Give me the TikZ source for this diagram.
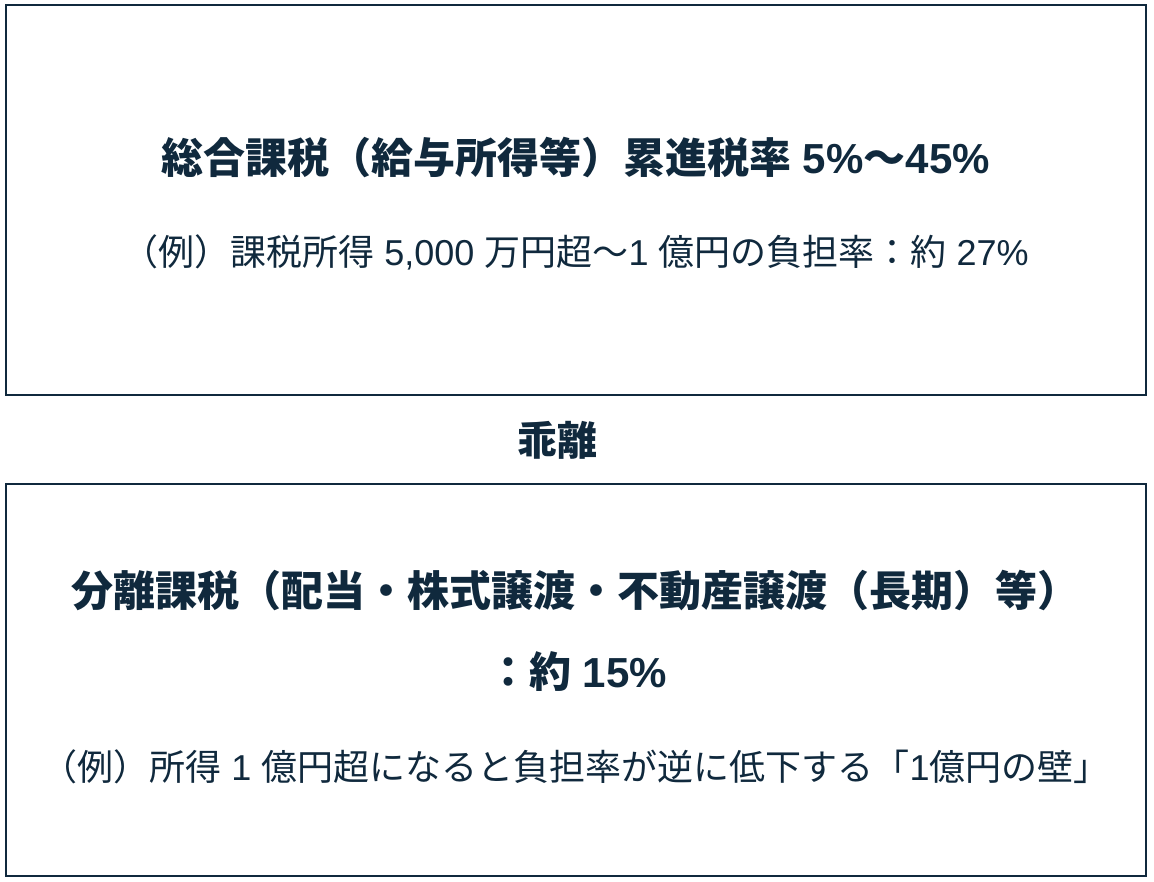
\documentclass[tikz,border=0pt]{standalone}
\usepackage{fontspec}
\newfontfamily\jp{Noto Sans CJK JP}
\newfontfamily\lt{Liberation Sans}
\definecolor{navy}{HTML}{10293D}
\begin{document}
\begin{tikzpicture}[x=1pt,y=-1pt,
  frame/.style={draw=navy,line width=2pt},
  title/.style={text=navy,font=\jp\bfseries\fontsize{42}{50}\selectfont,inner sep=0pt},
  gaplabel/.style={text=navy,font=\jp\bfseries\fontsize{40}{48}\selectfont,inner sep=0pt},
  sub/.style={text=navy,font=\jp\fontsize{36}{44}\selectfont,inner sep=0pt}]
\useasboundingbox (0,0) rectangle (1154,882);
\fill[white] (0,0) rectangle (1154,882);
\draw[frame] (5.5,5) rectangle (1146,395);
\draw[frame] (5.5,484) rectangle (1146,876);
\node[title] (t1) at (575.5,158) {総合課税（給与所得等）累進税率{\lt\bfseries\ 5\%}〜{\lt\bfseries 45\%}};
\node[sub] (s1) at (575.5,252) {（例）課税所得{\lt\ 5,000 }万円超〜{\lt 1 }億円の負担率：約{\lt\ 27\%}};
\node[gaplabel] (gap) at (557.5,440) {乖離};
\node[title] (t2) at (575.5,591) {分離課税（配当・株式譲渡・不動産譲渡（長期）等）};
\node[title] (t3) at (577,672) {：約{\lt\bfseries\ 15\%}};
\node[sub] (s2) at (575.5,767) {（例）所得{\lt\ 1 }億円超になると負担率が逆に低下する「{\lt 1}億円の壁」};
\end{tikzpicture}
\end{document}
